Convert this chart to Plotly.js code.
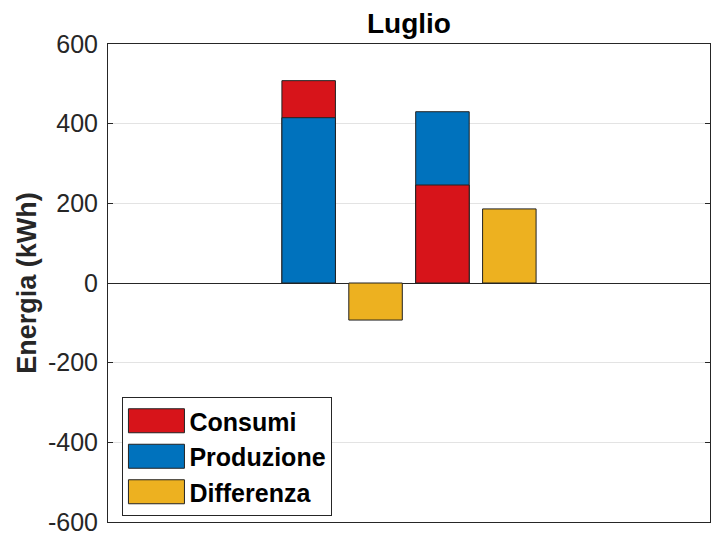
<!DOCTYPE html>
<html>
<head>
<meta charset="utf-8">
<script src="https://cdn.plot.ly/plotly-3.0.1.min.js"></script>
<style>
html,body{margin:0;padding:0;background:#fff;}
#chart{width:712px;height:538px;}
</style>
</head>
<body>
<div id="chart"></div>
<script>
// ---- data ----
var categories = ['G1', 'D1', 'G2', 'D2'];
var pairCats = ['G1', 'G2'];
var diffCats = ['D1', 'D2'];
var consumi = [508, 246];
var produzione = [415, 430];
var differenza = [-93, 186];
var seriesNames = ['Consumi', 'Produzione', 'Differenza'];
var tickVals = [-600, -400, -200, 0, 200, 400, 600];
var tickText = ['-600', '-400', '-200', '0', '200', '400', '600'];

// ---- styles ----
var cRed = '#D7141A', cBlue = '#0072BD', cYel = '#EDB120';
var line = {color: '#222', width: 1};

// overlay: larger value drawn behind the smaller one
var backY = [], backC = [], frontY = [], frontC = [];
for (var i = 0; i < pairCats.length; i++) {
  if (consumi[i] >= produzione[i]) {
    backY.push(consumi[i]); backC.push(cRed);
    frontY.push(produzione[i]); frontC.push(cBlue);
  } else {
    backY.push(produzione[i]); backC.push(cBlue);
    frontY.push(consumi[i]); frontC.push(cRed);
  }
}

var traces = [
  {type: 'bar', x: pairCats, y: backY, width: 0.8, showlegend: false,
   marker: {color: backC, line: line}},
  {type: 'bar', x: pairCats, y: frontY, width: 0.8, showlegend: false,
   marker: {color: frontC, line: line}},
  {type: 'bar', x: diffCats, y: differenza, width: 0.8, name: seriesNames[2], showlegend: false,
   marker: {color: cYel, line: line}},
  // legend entries
  {type: 'bar', x: [null], y: [null], name: seriesNames[0], marker: {color: cRed, line: line}},
  {type: 'bar', x: [null], y: [null], name: seriesNames[1], marker: {color: cBlue, line: line}},
  {type: 'bar', x: [null], y: [null], name: seriesNames[2], marker: {color: cYel, line: line}}
];

var layout = {
  width: 712, height: 538,
  margin: {l: 108, r: 2, t: 44, b: 16},
  paper_bgcolor: '#fff', plot_bgcolor: '#fff',
  barmode: 'overlay',
  font: {family: 'Liberation Sans, Arial, sans-serif', color: '#262626'},
  title: {text: '<b>Luglio</b>', font: {size: 28, color: '#000'}, x: 0.5, xref: 'paper', xanchor: 'center',
          yref: 'container', y: 0.957, yanchor: 'middle'},
  xaxis: {
    type: 'category', categoryorder: 'array', categoryarray: categories,
    range: [-3, 6], showticklabels: false, ticks: '',
    showgrid: false, zeroline: false,
    showline: true, mirror: true, linecolor: '#262626', linewidth: 1
  },
  yaxis: {
    range: [-600, 600], tickvals: tickVals, ticktext: tickText,
    ticks: 'inside', ticklen: 5, tickcolor: '#262626', ticklabelstandoff: 4,
    tickfont: {size: 25, color: '#262626'},
    showgrid: true, gridcolor: '#e3e3e3', gridwidth: 1,
    zeroline: true, zerolinecolor: '#262626', zerolinewidth: 1,
    showline: true, mirror: 'ticks', linecolor: '#262626', linewidth: 1,
    title: {text: '<b>Energia (kWh)</b>', font: {size: 27, color: '#262626'}, standoff: 3}
  },
  legend: {
    x: 0.024, y: 0.2615, xanchor: 'left', yanchor: 'top',
    bgcolor: '#fff', bordercolor: '#262626', borderwidth: 1,
    font: {size: 25, color: '#000', weight: 'bold'},
    itemwidth: 56, tracegroupgap: 0
  },
  showlegend: true
};

Plotly.newPlot('chart', traces, layout, {displayModeBar: false, staticPlot: true}).then(function (gd) {
  // enlarge the legend swatches to MATLAB-like rectangles
  var paths = gd.querySelectorAll('.legend .legendpoints path');
  paths.forEach(function (p) { p.setAttribute('d', 'M28,12H-28V-12H28Z'); });
});
</script>
</body>
</html>
